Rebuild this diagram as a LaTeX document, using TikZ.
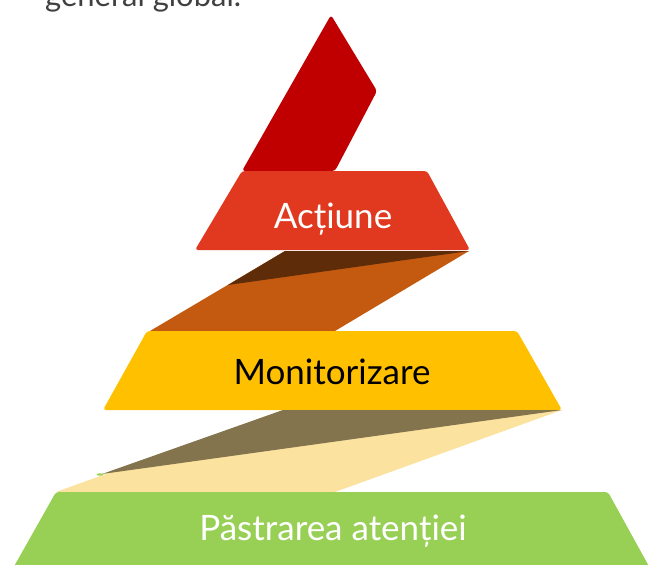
\documentclass[tikz,border=0pt]{standalone}
\usepackage{fontspec}
\setmainfont{Lato}
\definecolor{topred}{HTML}{C00000}
\definecolor{actred}{HTML}{E0391F}
\definecolor{darkbrown}{HTML}{5F2C0A}
\definecolor{rust}{HTML}{C35A10}
\definecolor{amber}{HTML}{FFC000}
\definecolor{olive}{HTML}{83744E}
\definecolor{paleyellow}{HTML}{FCE29F}
\definecolor{leaf}{HTML}{97D055}
\definecolor{graytext}{HTML}{404040}
\tikzset{
  band/.style={rounded corners=3pt},
  fold/.style={},
  bandlabel/.style={anchor=base, font=\fontsize{35}{40}\selectfont, inner sep=0pt}
}
\begin{document}
\begin{tikzpicture}[x=1pt,y=-1pt]
\useasboundingbox (0,0) rectangle (651,565);
\clip (0,0) rectangle (651,565);
% heading fragment
\node[anchor=base west, inner sep=0pt, text=graytext, font=\fontsize{31}{36}\selectfont] (head) at (45,6.5) {general global.};
% top red shape
\fill[topred, band] (331,15) -- (377,91) -- (335,171) -- (242,171) -- cycle;
% Actiune band
\fill[actred, band] (242,171) -- (427,171) -- (470,250) -- (195,250) -- cycle;
\node[bandlabel, text=white] (actiune) at (333,228) {Acțiune};
% brown fold
\fill[rust] (285,251) -- (469,251) -- (335,331) -- (150,331) -- cycle;
\fill[darkbrown] (285,251) -- (469,251) -- (228,285) -- cycle;
% Monitorizare band
\fill[amber, band] (147,331) -- (517,331) -- (562,410) -- (103,410) -- cycle;
\node[bandlabel, text=black] (monit) at (332,384) {Monitorizare};
% lower fold
\fill[paleyellow] (283,410) -- (562,410) -- (335,492) -- (56,492) -- cycle;
\fill[olive] (283,410) -- (562,410) -- (102,474) -- cycle;
\fill[leaf] (100,474.5) ellipse (3.5 and 1.2);
% green band
\fill[leaf, band] (56,492) -- (608,492) -- (651,570) -- (12,570) -- cycle;
\node[bandlabel, text=white] (pastrare) at (333,540) {Păstrarea atenției};
\end{tikzpicture}
\end{document}
